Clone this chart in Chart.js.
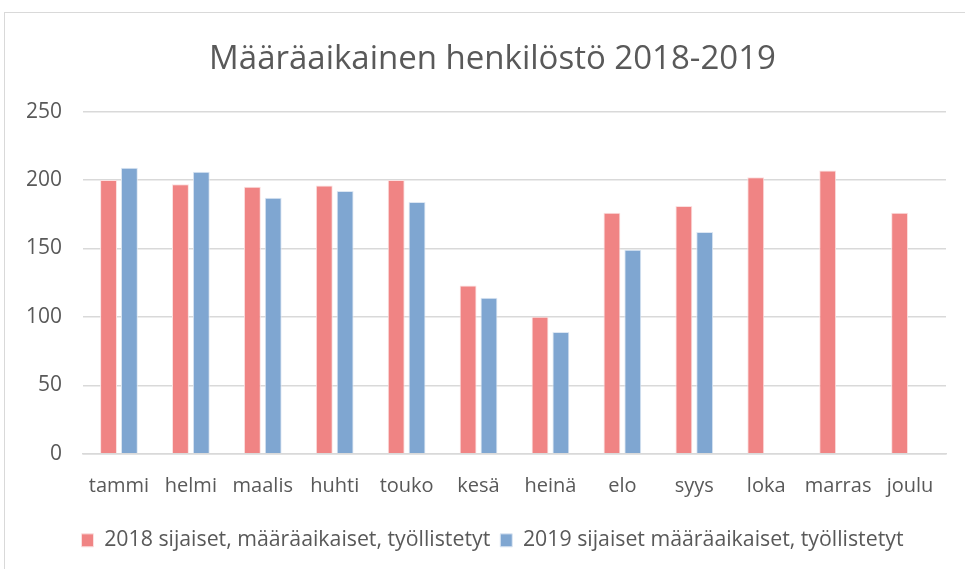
<!DOCTYPE html>
<html>
<head>
<meta charset="utf-8">
<script src="https://cdn.jsdelivr.net/npm/chart.js@4"></script>
<style>
  html, body { margin: 0; padding: 0; background: #fff; overflow: hidden; }
  #frame { position: absolute; left: 4px; top: 12px; width: 975px; height: 575px; border: 1px solid #d9d9d9; }
  #wrap { position: absolute; left: 0; top: 0; width: 965px; height: 569px; }
</style>
</head>
<body>
<div id="frame"></div>
<div id="wrap"><canvas id="myChart" width="965" height="569"></canvas></div>
<script>
const months = ['tammi', 'helmi', 'maalis', 'huhti', 'touko', 'kesä', 'heinä', 'elo', 'syys', 'loka', 'marras', 'joulu'];
const values2018 = [200, 197, 195, 196, 200, 123, 100, 176, 181, 202, 207, 176];
const values2019 = [209, 206, 187, 192, 184, 114, 89, 149, 162, null, null, null];
const label2018 = '2018 sijaiset, määräaikaiset, työllistetyt';
const label2019 = '2019 sijaiset määräaikaiset, työllistetyt';
const yTicks = [0, 50, 100, 150, 200, 250];

const textColor = '#595959';
const fontFamily = "'Open Sans', sans-serif";

const ctx = document.getElementById('myChart').getContext('2d');
new Chart(ctx, {
    type: 'bar',
    data: {
        labels: months,
        datasets: [
            {
                label: label2018,
                data: values2018,
                backgroundColor: '#F08484',
                borderColor: '#fbe0e0',
                borderWidth: 1,
                categoryPercentage: 0.58,
                barPercentage: 0.81
            },
            {
                label: label2019,
                data: values2019,
                backgroundColor: '#7FA6D1',
                borderColor: '#dde7f3',
                borderWidth: 1,
                categoryPercentage: 0.58,
                barPercentage: 0.81
            }
        ]
    },
    options: {
        responsive: false,
        animation: false,
        layout: { padding: { left: 39, right: 19, top: 12, bottom: 8 } },
        plugins: {
            title: {
                display: true,
                text: 'Määräaikainen henkilöstö 2018-2019',
                color: textColor,
                font: { family: fontFamily, size: 33, weight: 'normal' },
                padding: { top: 28, bottom: 32 }
            },
            legend: {
                position: 'bottom',
                labels: {
                    color: textColor,
                    font: { family: fontFamily, size: 21.3 },
                    boxWidth: 12,
                    boxHeight: 13,
                    padding: 10
                }
            },
            tooltip: { enabled: false }
        },
        scales: {
            x: {
                grid: { display: false, drawTicks: false },
                border: { color: '#d9d9d9', width: 1.5 },
                ticks: { color: textColor, font: { family: fontFamily, size: 20 }, padding: 21, maxRotation: 0 }
            },
            y: {
                min: 0,
                max: 250,
                afterFit: (scale) => {
                    scale.width = 44;
                    // labels sit partly in the left padding, so don't clip them
                    scale._computeLabelArea = () => undefined;
                },
                afterBuildTicks: (scale) => { scale.ticks = yTicks.map(v => ({ value: v })); },
                grid: { color: '#d9d9d9', lineWidth: 1.5, drawTicks: false },
                border: { display: false },
                ticks: { color: textColor, font: { family: fontFamily, size: 21 }, padding: 21 }
            }
        }
    }
});
</script>
</body>
</html>
